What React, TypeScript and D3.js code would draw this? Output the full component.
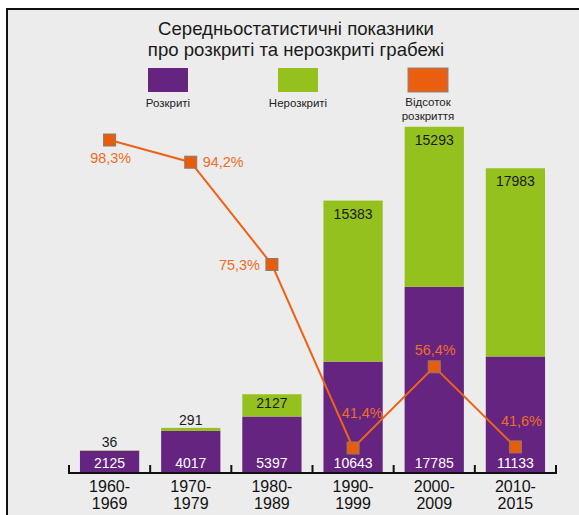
import React from "react";
import * as d3 from "d3";

const categories = ["1960-1969", "1970-1979", "1980-1989", "1990-1999", "2000-2009", "2010-2015"];
const tickLabelsTop = ["1960-", "1970-", "1980-", "1990-", "2000-", "2010-"];
const tickLabelsBottom = ["1969", "1979", "1989", "1999", "2009", "2015"];
const solved = [2125, 4017, 5397, 10643, 17785, 11133];
const unsolved = [36, 291, 2127, 15383, 15293, 17983];
const solvedRate = [98.3, 94.2, 75.3, 41.4, 56.4, 41.6];
const rateLabels = ["98,3%", "94,2%", "75,3%", "41,4%", "56,4%", "41,6%"];
const titleLines = ["Середньостатистичні показники", "про розкриті та нерозкриті грабежі"];
const legendItems = ["Розкриті", "Нерозкриті", "Відсоток|розкриття"];

// label placement styling (offsets relative to point)
const rateLabelStyle = [
  { dx: 1, dy: 18, anchor: "middle" },
  { dx: 12, dy: 0, anchor: "start" },
  { dx: -12, dy: 0, anchor: "end" },
  { dx: 9, dy: -35, anchor: "middle" },
  { dx: 1, dy: -17, anchor: "middle" },
  { dx: 6, dy: -26, anchor: "middle" },
];

const W = 579;
const H = 515;
const PURPLE = "#662481";
const GREEN = "#95c11f";
const ORANGE = "#e95e0f";
const FONT = "'Liberation Sans', Arial, sans-serif";

export default function App() {
  const x = d3.scaleBand<string>().domain(categories).range([69, 556]).paddingInner(0.27).paddingOuter(0.135);
  const y = d3.scaleLinear().domain([0, 35000]).range([473, 473 - 35000 * 0.010467]);
  const yp = d3.scaleLinear().domain([0, 100]).range([672.1, 130.8]);
  const step = x.step();
  const bw = x.bandwidth();
  const cx = (c: string) => (x(c) as number) + bw / 2;

  const linePath = d3
    .line<number>()
    .x((_, i) => cx(categories[i]))
    .y((d) => yp(d))(solvedRate);

  const legendColors = [PURPLE, GREEN, ORANGE];
  const legendX = [168, 298, 428];

  return (
    <svg width={W} height={H} style={{ position: "fixed", left: 0, top: 0 }} fontFamily={FONT}>
      <rect x={0} y={0} width={W} height={H} fill="#ffffff" />
      <rect x={7} y={9} width={W} height={H} fill="#ececec" stroke="#111" strokeWidth={2} />
      {titleLines.map((t, i) => (
        <text key={i} x={296} y={28 + i * 21} textAnchor="middle" dominantBaseline="central" fontSize={18.6} fill="#1a1a1a">
          {t}
        </text>
      ))}
      {legendItems.map((l, i) => (
        <g key={i}>
          <rect x={legendX[i] - 20} y={68} width={40} height={24} fill={legendColors[i]} stroke={i === 2 ? "#888" : "none"} strokeWidth={1} />
          {l.split("|").map((s, j, arr) => (
            <text key={j} x={legendX[i]} y={(arr.length > 1 ? 102 : 103) + j * 14} textAnchor="middle" dominantBaseline="central" fontSize={11.5} fill="#222">
              {s}
            </text>
          ))}
        </g>
      ))}
      {categories.map((c, i) => {
        const x0 = x(c) as number;
        const yS = y(solved[i]);
        const yT = y(solved[i] + unsolved[i]);
        const gh = yS - yT;
        let ly: number;
        if (gh < 10) ly = yT - 8;
        else if (gh < 30) ly = yT + gh * 0.4;
        else ly = yT + 13;
        return (
          <g key={c}>
            <rect x={x0} y={yS} width={bw} height={y(0) - yS} fill={PURPLE} />
            <rect x={x0} y={yT} width={bw} height={gh} fill={GREEN} />
            <text x={cx(c)} y={462.5} textAnchor="middle" dominantBaseline="central" fontSize={14} fill="#ffffff">
              {solved[i]}
            </text>
            <text x={cx(c)} y={ly} textAnchor="middle" dominantBaseline="central" fontSize={14} fill="#1a1a1a">
              {unsolved[i]}
            </text>
          </g>
        );
      })}
      <path d={linePath || ""} fill="none" stroke="#ec6316" strokeWidth={2} />
      {solvedRate.map((r, i) => {
        const px = cx(categories[i]);
        const py = yp(r);
        const st = rateLabelStyle[i];
        return (
          <g key={i}>
            <rect x={px - 6} y={py - 6} width={12} height={12} fill="#e85d0c" stroke="#8a7a70" strokeWidth={1} />
            <text x={px + st.dx} y={py + st.dy} textAnchor={st.anchor as any} dominantBaseline="central" fontSize={14.4} fill="#ef6d26">
              {rateLabels[i]}
            </text>
          </g>
        );
      })}
      <line x1={68} x2={557} y1={473} y2={473} stroke="#111" strokeWidth={2} />
      {d3.range(categories.length + 1).map((k) => {
        const tx = 69 + k * step;
        return <line key={k} x1={tx} x2={tx} y1={474} y2={465} stroke="#111" strokeWidth={2} />;
      })}
      {categories.map((c, i) => (
        <g key={c}>
          <text x={cx(c)} y={486.5} textAnchor="middle" dominantBaseline="central" fontSize={16} fill="#111">
            {tickLabelsTop[i]}
          </text>
          <text x={cx(c)} y={503.5} textAnchor="middle" dominantBaseline="central" fontSize={16} fill="#111">
            {tickLabelsBottom[i]}
          </text>
        </g>
      ))}
    </svg>
  );
}
